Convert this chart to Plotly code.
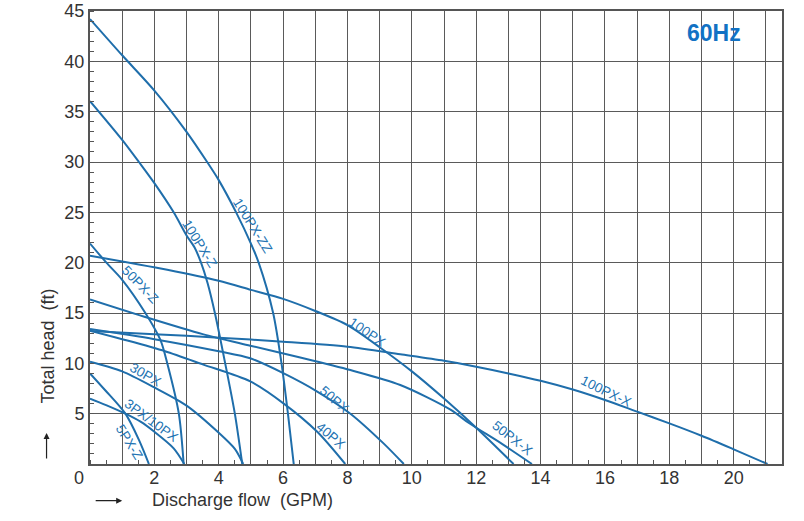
import plotly.graph_objects as go

# pump curves (flow GPM, head ft)
q_100pxzz = [0, 1, 2, 3, 3.64, 4, 4.54, 5, 5.24, 5.69, 5.95, 6.15, 6.33]
h_100pxzz = [44.2, 40.6, 37.1, 33.0, 30, 28.2, 25, 21.9, 20, 15, 10, 5, 0]

q_100pxz = [0, 1, 1.52, 2, 2.6, 3, 3.25, 3.45, 3.65, 3.88, 4.2, 4.5, 4.73]
h_100pxz = [36.05, 32.2, 30, 27.9, 25, 22.7, 21.5, 20, 18, 15, 10, 5, 0]

q_50pxz = [0, 0.51, 1, 1.72, 2.19, 2.4, 2.76, 2.91]
h_50pxz = [21.9, 20, 18.3, 15, 12.3, 10, 5, 0]

q_100px = [0, 2.4, 4, 5, 6, 7, 8, 9, 10, 11, 12, 13.16]
h_100px = [20.7, 19.3, 18.2, 17.3, 16.4, 15.2, 13.8, 11.6, 9.2, 6.5, 3.6, 0]

q_100pxx = [0, 2, 4, 6, 8, 9.64, 11, 12, 13, 14, 15, 16, 17, 18, 19, 20, 21.05]
h_100pxx = [13.2, 12.9, 12.55, 12.15, 11.65, 10.9, 10.26, 9.66, 9.0, 8.27, 7.4, 6.36, 5.2, 4.04, 2.81, 1.46, 0]

q_50pxx = [0, 1.82, 3.5, 4.98, 6.5, 8.09, 9.64, 11.2, 11.76, 12.8, 13.73]
h_50pxx = [16.35, 14.5, 12.9, 11.75, 10.6, 9.33, 7.85, 5.4, 4.1, 2.0, 0]

q_50px = [0, 2, 4, 4.98, 6.02, 7.06, 8.09, 9.12, 9.75]
h_50px = [13.4, 12.4, 11.2, 10.5, 9.0, 7.2, 5.0, 2.05, 0]

q_40px = [0, 1, 2.33, 3.5, 4.98, 6.02, 7.06, 7.93]
h_40px = [13.25, 12.4, 11.2, 9.9, 8.2, 6.0, 3.2, 0]

q_30px = [0, 1, 2, 3, 4, 4.5, 4.76]
h_30px = [10.16, 9.2, 7.6, 5.8, 3.1, 1.5, 0]

q_3px10px = [0, 0.5, 1.1, 1.57, 2, 2.6, 2.93]
h_3px10px = [6.5, 5.85, 5.0, 4.2, 3.2, 1.56, 0]

q_5pxz = [0, 0.48, 1.1, 1.52, 1.83]
h_5pxz = [9.0, 7.3, 5.0, 2.4, 0]

curves = [
    (q_100pxzz, h_100pxzz), (q_100pxz, h_100pxz), (q_50pxz, h_50pxz),
    (q_100px, h_100px), (q_100pxx, h_100pxx), (q_50pxx, h_50pxx),
    (q_50px, h_50px), (q_40px, h_40px), (q_30px, h_30px),
    (q_3px10px, h_3px10px), (q_5pxz, h_5pxz),
]

# curve names and where the label sits
label_names = ["100PX-ZZ", "100PX-Z", "50PX-Z", "100PX", "100PX-X", "50PX-X",
               "50PX", "40PX", "30PX", "3PX/10PX", "5PX-Z"]
label_q = [5.05, 3.4, 1.55, 8.63, 16.04, 13.14, 7.59, 7.47, 1.71, 1.9, 1.2]
label_h = [23.7, 21.9, 17.8, 13.1, 7.2, 2.55, 6.45, 2.8, 8.9, 4.3, 2.2]
label_angle = [58, 58, 46, 34, 26, 38, 41, 40, 30, 36, 58]

x_ticks = list(range(0, 22))
x_tick_labels = [str(v) if v % 2 == 0 and v > 0 else "" for v in x_ticks]
y_ticks = list(range(0, 50, 5))
y_tick_labels = [str(v) if v > 0 else "" for v in y_ticks]

blue = "#1f6eab"
font = "Arial, Liberation Sans, sans-serif"

fig = go.Figure()
for q, h in curves:
    fig.add_trace(go.Scatter(
        x=q, y=h, mode="lines",
        line=dict(color=blue, width=2, shape="spline", smoothing=0.8),
        hoverinfo="skip",
    ))

for name, q, h, a in zip(label_names, label_q, label_h, label_angle):
    fig.add_annotation(x=q, y=h, text=name, textangle=a, showarrow=False,
                       font=dict(family=font, size=13.5, color="#2474b3"))

# axis titles, arrows and the shared zero
txt = dict(family=font, size=18, color="#333")
fig.add_annotation(xref="paper", yref="paper", x=-0.0614, y=0.2605, text="Total head  (ft)",
                   textangle=-90, showarrow=False, xanchor="center", yanchor="middle", font=txt)
fig.add_annotation(xref="paper", yref="paper", x=0.0465, y=-0.081, text="", showarrow=True,
                   ax=-28, ay=0, arrowhead=2, arrowsize=1, arrowwidth=1.2, arrowcolor="#222")
fig.add_annotation(xref="paper", yref="paper", x=0.221, y=-0.0795, text="Discharge flow  (GPM)",
                   showarrow=False, xanchor="center", yanchor="middle", font=txt)
fig.add_annotation(xref="paper", yref="paper", x=-0.0628, y=0.0684, text="", showarrow=True,
                   ax=0, ay=27, arrowhead=2, arrowsize=1, arrowwidth=1.2, arrowcolor="#222")
fig.add_annotation(xref="paper", yref="paper", x=-0.0166, y=-0.031, text="0",
                   showarrow=False, xanchor="center", yanchor="middle", font=txt)
fig.add_annotation(xref="paper", yref="paper", x=0.902, y=0.9525, text="<b>60Hz</b>",
                   showarrow=False, xanchor="center", yanchor="middle",
                   font=dict(family=font, size=23, color="#1272c4"))

fig.update_layout(
    width=804, height=521,
    margin=dict(l=89.5, r=22.3, t=11, b=57),
    plot_bgcolor="white", paper_bgcolor="white",
    showlegend=False,
    xaxis=dict(
        range=[0, 21.5], tickmode="array", tickvals=x_ticks, ticktext=x_tick_labels,
        showgrid=True, gridcolor="#5a5a5a", gridwidth=1, zeroline=False,
        showline=True, linecolor="#555", linewidth=2, mirror=True, ticks="",
        tickfont=dict(family=font, size=18, color="#333"), automargin=False,
        ticklabelstandoff=-4, ticklabeloverflow="allow",
        minor=dict(tickmode="linear", tick0=0, dtick=0.5, ticks="inside",
                   ticklen=4, tickcolor="#555", showgrid=False),
    ),
    yaxis=dict(
        range=[0, 45], tickmode="array", tickvals=y_ticks, ticktext=y_tick_labels,
        showgrid=True, gridcolor="#5a5a5a", gridwidth=1, zeroline=False,
        showline=True, linecolor="#555", linewidth=2, mirror=True, ticks="",
        tickfont=dict(family=font, size=18, color="#333"), automargin=False,
        ticklabeloverflow="allow",
        minor=dict(tickmode="linear", tick0=0, dtick=1, ticks="inside",
                   ticklen=4, tickcolor="#555", showgrid=False),
    ),
)

# drop the default 8px page margin so the figure fills the window exactly
fig.write_html("out.html", config={"displayModeBar": False},
               post_script="document.body.style.margin = '0';")
